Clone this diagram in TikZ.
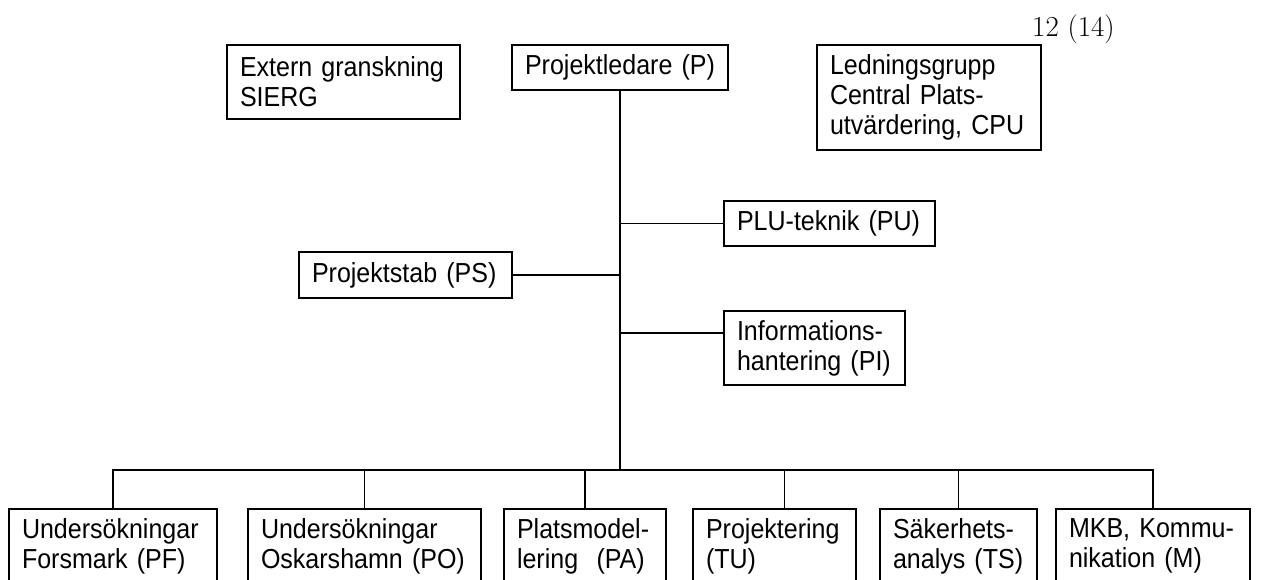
\documentclass[tikz,border=0pt]{standalone}
\usepackage{fontspec}
\newfontfamily\boxfont[FakeStretch=0.91]{Liberation Sans}
\usepackage{tikz}

\begin{document}
\begin{tikzpicture}[
        x=1pt, y=-1pt,
        unit/.style={
            rectangle, draw=black, line width=1.1pt, fill=white,
            inner xsep=13pt, inner ysep=0pt, align=left,
            font=\boxfont\fontsize{27.5}{30}\selectfont
        },
        link/.style={line width=1.1pt, draw=black}
    ]
        \useasboundingbox (0,0) rectangle (1266,580);

        % Page number
        \node[anchor=base west, inner sep=0pt, font=\fontsize{29}{32}\selectfont] (page) at (1032,37) {12 (14)};

        % Top row
        \node[unit, text width=207pt, minimum height=74pt] (ext) at (343.5,82) {Extern granskning\\SIERG};
        \node[unit, text width=190pt, minimum height=45pt] (pl) at (620,67.5) {Projektledare (P)};
        \node[unit, text width=198pt, minimum height=105pt] (cpu) at (929,97.5) {Ledningsgrupp\\Central Plats-\\utvärdering, CPU};

        % Staff units
        \node[unit, text width=185pt, minimum height=45pt] (pu) at (829.5,223.5) {PLU-teknik (PU)};
        \node[unit, text width=187pt, minimum height=46pt] (ps) at (405.5,275) {Projektstab (PS)};
        \node[unit, text width=155pt, minimum height=74pt] (pi) at (814.5,348) {Informations-\\hantering (PI)};

        % Bottom row
        \node[unit, text width=182pt, minimum height=74pt] (pf) at (113,546) {Undersökningar\\Forsmark (PF)};
        \node[unit, text width=207pt, minimum height=74pt] (po) at (364.5,546) {Undersökningar\\Oskarshamn (PO)};
        \node[unit, text width=136pt, minimum height=74pt] (pa) at (585,546) {Platsmodel-\\lering~~(PA)};
        \node[unit, text width=137pt, minimum height=74pt] (tu) at (774.5,546) {Projektering\\(TU)};
        \node[unit, text width=131pt, minimum height=74pt] (ts) at (958.5,546) {Säkerhets-\\analys (TS)};
        \node[unit, text width=168pt, minimum height=74pt] (m) at (1153,546) {MKB, Kommu-\\nikation (M)};

        % Trunk and branches
        \coordinate (bus) at (620,470);
        \draw[link] (pl) -- (bus);
        \draw[link] (pu.west) -- (pu.west -| pl.south);
        \draw[link] (ps.east) -- (ps.east -| pl.south);
        \draw[link] ([yshift=15pt]pi.west) -- ([yshift=15pt]pi.west -| pl.south);

        % Bus to bottom row
        \draw[link] (bus) -| (pf);
        \draw[link] (bus) -| (po);
        \draw[link] (bus) -| (pa);
        \draw[link] (bus) -| ([xshift=10pt]tu.north);
        \draw[link] (bus) -| (ts);
        \draw[link] (bus) -| (m);

    \end{tikzpicture}
\end{document}
